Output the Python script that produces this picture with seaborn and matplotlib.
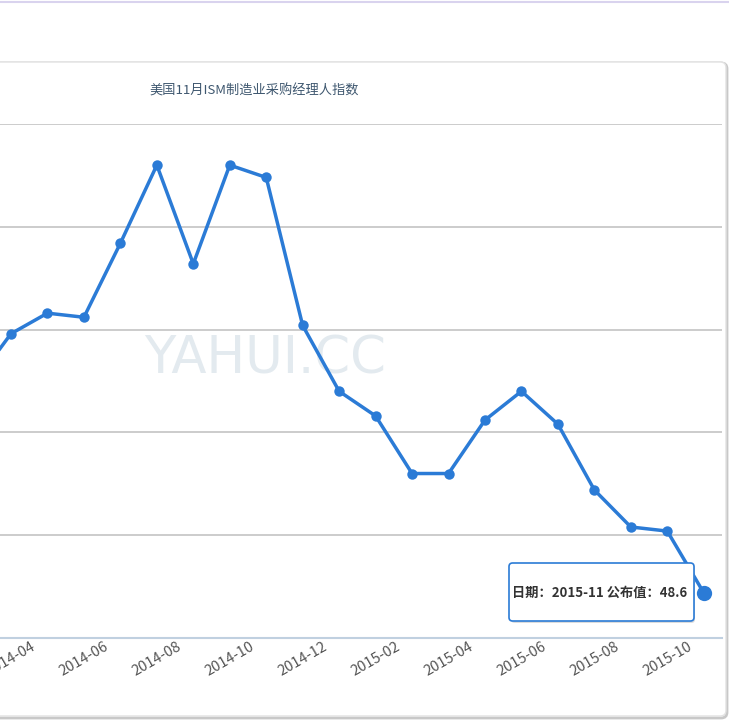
import numpy as np
import pandas as pd
import matplotlib
matplotlib.use("Agg")
import matplotlib.pyplot as plt
import seaborn as sns
from matplotlib.patches import FancyBboxPatch
from matplotlib.lines import Line2D


# ==============================
# Data
# ==============================

months = [
    "2014-03", "2014-04", "2014-05", "2014-06", "2014-07", "2014-08", "2014-09",
    "2014-10", "2014-11", "2014-12", "2015-01", "2015-02", "2015-03", "2015-04",
    "2015-05", "2015-06", "2015-07", "2015-08", "2015-09", "2015-10", "2015-11",
]
pmi = [
    53.7, 54.9, 55.4, 55.3, 57.1, 59.0, 56.6,
    59.0, 58.7, 55.1, 53.5, 52.9, 51.5, 51.5,
    52.8, 53.5, 52.7, 51.1, 50.2, 50.1, 48.6,
]
y_ticks = [50, 52.5, 55, 57.5, 60]
title = "美国11月ISM制造业采购经理人指数"
tooltip = "日期：2015-11 公布值：48.6"

# category positions, one slot per month
df = pd.DataFrame({"pos": np.arange(len(months)), "month": months, "value": pmi})


# ==============================
# Style
# ==============================

sns.set_theme(style="white")
plt.rcParams["font.family"] = ["Noto Sans CJK SC", "DejaVu Sans"]

LINE = "#2b7bd6"
GRID = "#c4c4c4"
AXIS = "#c0d0e0"

W, H = 729, 720
fig = plt.figure(figsize=(W / 100, H / 100), dpi=100)

# outer chart box with rounded corners and a soft bottom shadow
fig.patches.append(FancyBboxPatch(
    (-10 / W, 1 - 718 / H), 737 / W, 655 / H,
    boxstyle="round,pad=0,rounding_size=0.008",
    transform=fig.transFigure, facecolor="none", edgecolor="#c8c8c8",
    linewidth=2.0, zorder=0))
fig.patches.append(FancyBboxPatch(
    (-10 / W, 1 - 716 / H), 736 / W, 654 / H,
    boxstyle="round,pad=0,rounding_size=0.008",
    transform=fig.transFigure, facecolor="white", edgecolor="#e2e2e2",
    linewidth=1.0, zorder=0.5))
fig.lines.append(Line2D([0, 1], [1 - 2 / H, 1 - 2 / H], transform=fig.transFigure,
                        color="#d9d3ee", linewidth=1.5))

# watermark
fig.text(265 / W, 1 - 360 / H, "YAHUI.CC", ha="center", va="center",
         fontsize=37, color="#e3eaef", zorder=1,
         family=["Liberation Sans Narrow", "DejaVu Sans"])


# ==============================
# Plot area: left edge cuts 2014-03 off
# ==============================

px_per_cat = 36.46
x_left = 1 - 11 / px_per_cat
x_right = len(months) - 0.5
ax = fig.add_axes([0, 1 - 638 / H, (x_right - x_left) * px_per_cat / W, (638 - 124) / H])
ax.set_facecolor("none")
ax.set_zorder(2)

for yv in y_ticks:
    ax.axhline(yv, color=GRID, linewidth=1.2, zorder=2)

sns.lineplot(data=df, x="pos", y="value", ax=ax, color=LINE, linewidth=2.5,
             marker="o", markersize=7.5, markeredgewidth=0, sort=False, zorder=4)

# hovered last point
ax.plot([df["pos"].iloc[-1]], [pmi[-1]], "o", color=LINE, markersize=11,
        markeredgewidth=0, zorder=5, clip_on=False)

ax.set_xlabel("")
ax.set_ylabel("")
ax.set_yticks([])

label_idx = list(range(1, len(months), 2))
ax.set_xticks(label_idx)
ax.set_xticklabels([months[i] for i in label_idx], rotation=30, ha="center",
                   fontsize=10.5, color="#555555")
ax.tick_params(axis="x", which="major", length=0, pad=1)
ax.set_xticks(np.arange(0.5, len(months), 2), minor=True)
ax.tick_params(axis="x", which="minor", length=6, width=1, color=AXIS, direction="out")

# limits last, so the tick calls cannot widen them
ax.set_xlim(x_left, x_right)
ax.set_ylim(47.5, 60)

for side in ["top", "right", "left"]:
    ax.spines[side].set_visible(False)
ax.spines["bottom"].set_color(AXIS)
ax.spines["bottom"].set_linewidth(1.5)

fig.text(254 / W, 1 - 91 / H, title, ha="center", va="center",
         fontsize=9.5, color="#3e576f")

# tooltip
fig.patches.append(FancyBboxPatch(
    (511 / W, 1 - 623 / H), 184 / W, 58 / H,
    boxstyle="round,pad=0,rounding_size=0.005",
    transform=fig.transFigure, facecolor="#bbbbbb", edgecolor="none",
    alpha=0.5, zorder=6))
fig.patches.append(FancyBboxPatch(
    (509 / W, 1 - 621 / H), 185 / W, 58 / H,
    boxstyle="round,pad=0,rounding_size=0.005",
    transform=fig.transFigure, facecolor="white", edgecolor=LINE,
    linewidth=1.2, zorder=7))
fig.text(600 / W, 1 - 593 / H, tooltip, ha="center", va="center",
         fontsize=9.5, fontweight="bold", color="#333333", zorder=8)

plt.savefig("out.png", dpi=100)
plt.close()
